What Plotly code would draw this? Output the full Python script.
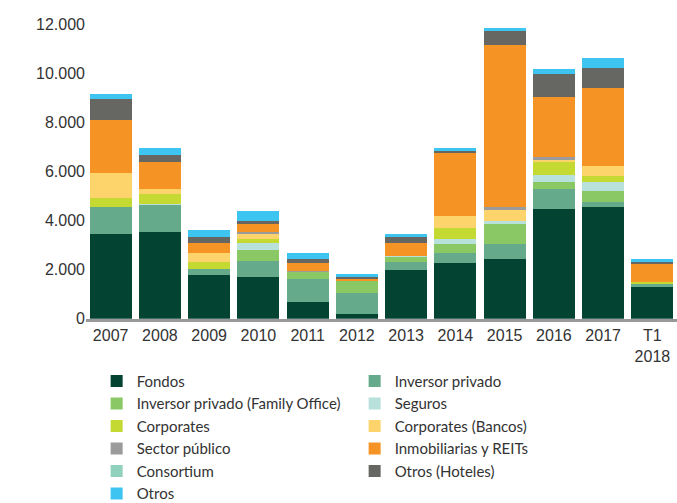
import plotly.graph_objects as go

# Inversión por tipo de comprador (millones de euros)
years = ["2007", "2008", "2009", "2010", "2011", "2012", "2013", "2014",
         "2015", "2016", "2017", "T1<br>2018"]

fondos = [3450, 3540, 1785, 1705, 690, 205, 1985, 2255, 2430, 4460, 4540, 1300]
inversor_privado = [1090, 1095, 255, 645, 920, 850, 340, 435, 625, 835, 205, 120]
family_office = [0, 0, 0, 445, 295, 460, 190, 365, 835, 270, 445, 0]
seguros = [0, 30, 0, 270, 0, 0, 40, 190, 70, 270, 365, 0]
corporates = [365, 430, 270, 175, 0, 0, 0, 460, 0, 530, 245, 80]
corporates_bancos = [1010, 205, 365, 190, 0, 0, 0, 475, 485, 120, 405, 0]
sector_publico = [0, 0, 0, 110, 20, 0, 0, 0, 95, 80, 0, 0]
inmobiliarias = [2190, 1095, 405, 350, 325, 100, 530, 2555, 6605, 2470, 3200, 730]
consortium = [0] * 12
otros_hoteles = [850, 285, 245, 80, 200, 95, 245, 95, 570, 935, 810, 80]
otros = [205, 285, 285, 405, 205, 110, 120, 110, 120, 200, 405, 120]

series = [
    ("Fondos", fondos, "#034332"),
    ("Inversor privado", inversor_privado, "#65AA8A"),
    ("Inversor privado (Family Office)", family_office, "#8AC765"),
    ("Seguros", seguros, "#B8E1DB"),
    ("Corporates", corporates, "#C5D933"),
    ("Corporates (Bancos)", corporates_bancos, "#FDD36B"),
    ("Sector público", sector_publico, "#9B9B9B"),
    ("Inmobiliarias y REITs", inmobiliarias, "#F59324"),
    ("Consortium", consortium, "#8FD1BD"),
    ("Otros (Hoteles)", otros_hoteles, "#666662"),
    ("Otros", otros, "#3EC4F1"),
]

fig = go.Figure()
for name, vals, color in series:
    fig.add_trace(go.Bar(
        x=years, y=vals, name=name,
        marker=dict(color=color, line=dict(width=0)),
    ))

fig.update_layout(
    width=677, height=503,
    barmode="stack", bargap=0.15,
    separators=",.",
    plot_bgcolor="white", paper_bgcolor="white",
    margin=dict(l=86, r=0, t=24, b=183),
    font=dict(family="Liberation Sans, Arial, sans-serif", size=16, color="#333333"),
    showlegend=True,
    legend=dict(
        orientation="h", traceorder="normal",
        x=0.018, xanchor="left",
        yref="container", y=0.275, yanchor="top",
        itemwidth=30, entrywidth=213, entrywidthmode="pixels",
        font=dict(family="Lato, sans-serif", size=15, color="#333333"),
        itemclick=False, tracegroupgap=0,
    ),
)
fig.update_xaxes(
    showline=True, linecolor="#999999", linewidth=3,
    showgrid=False, ticks="", tickfont=dict(size=16),
)
fig.update_yaxes(
    range=[0, 12000], dtick=2000, tickformat=",d",
    showgrid=False, zeroline=False, showline=False,
    ticks="", tickfont=dict(size=16),
)

fig.write_html("out.html")
